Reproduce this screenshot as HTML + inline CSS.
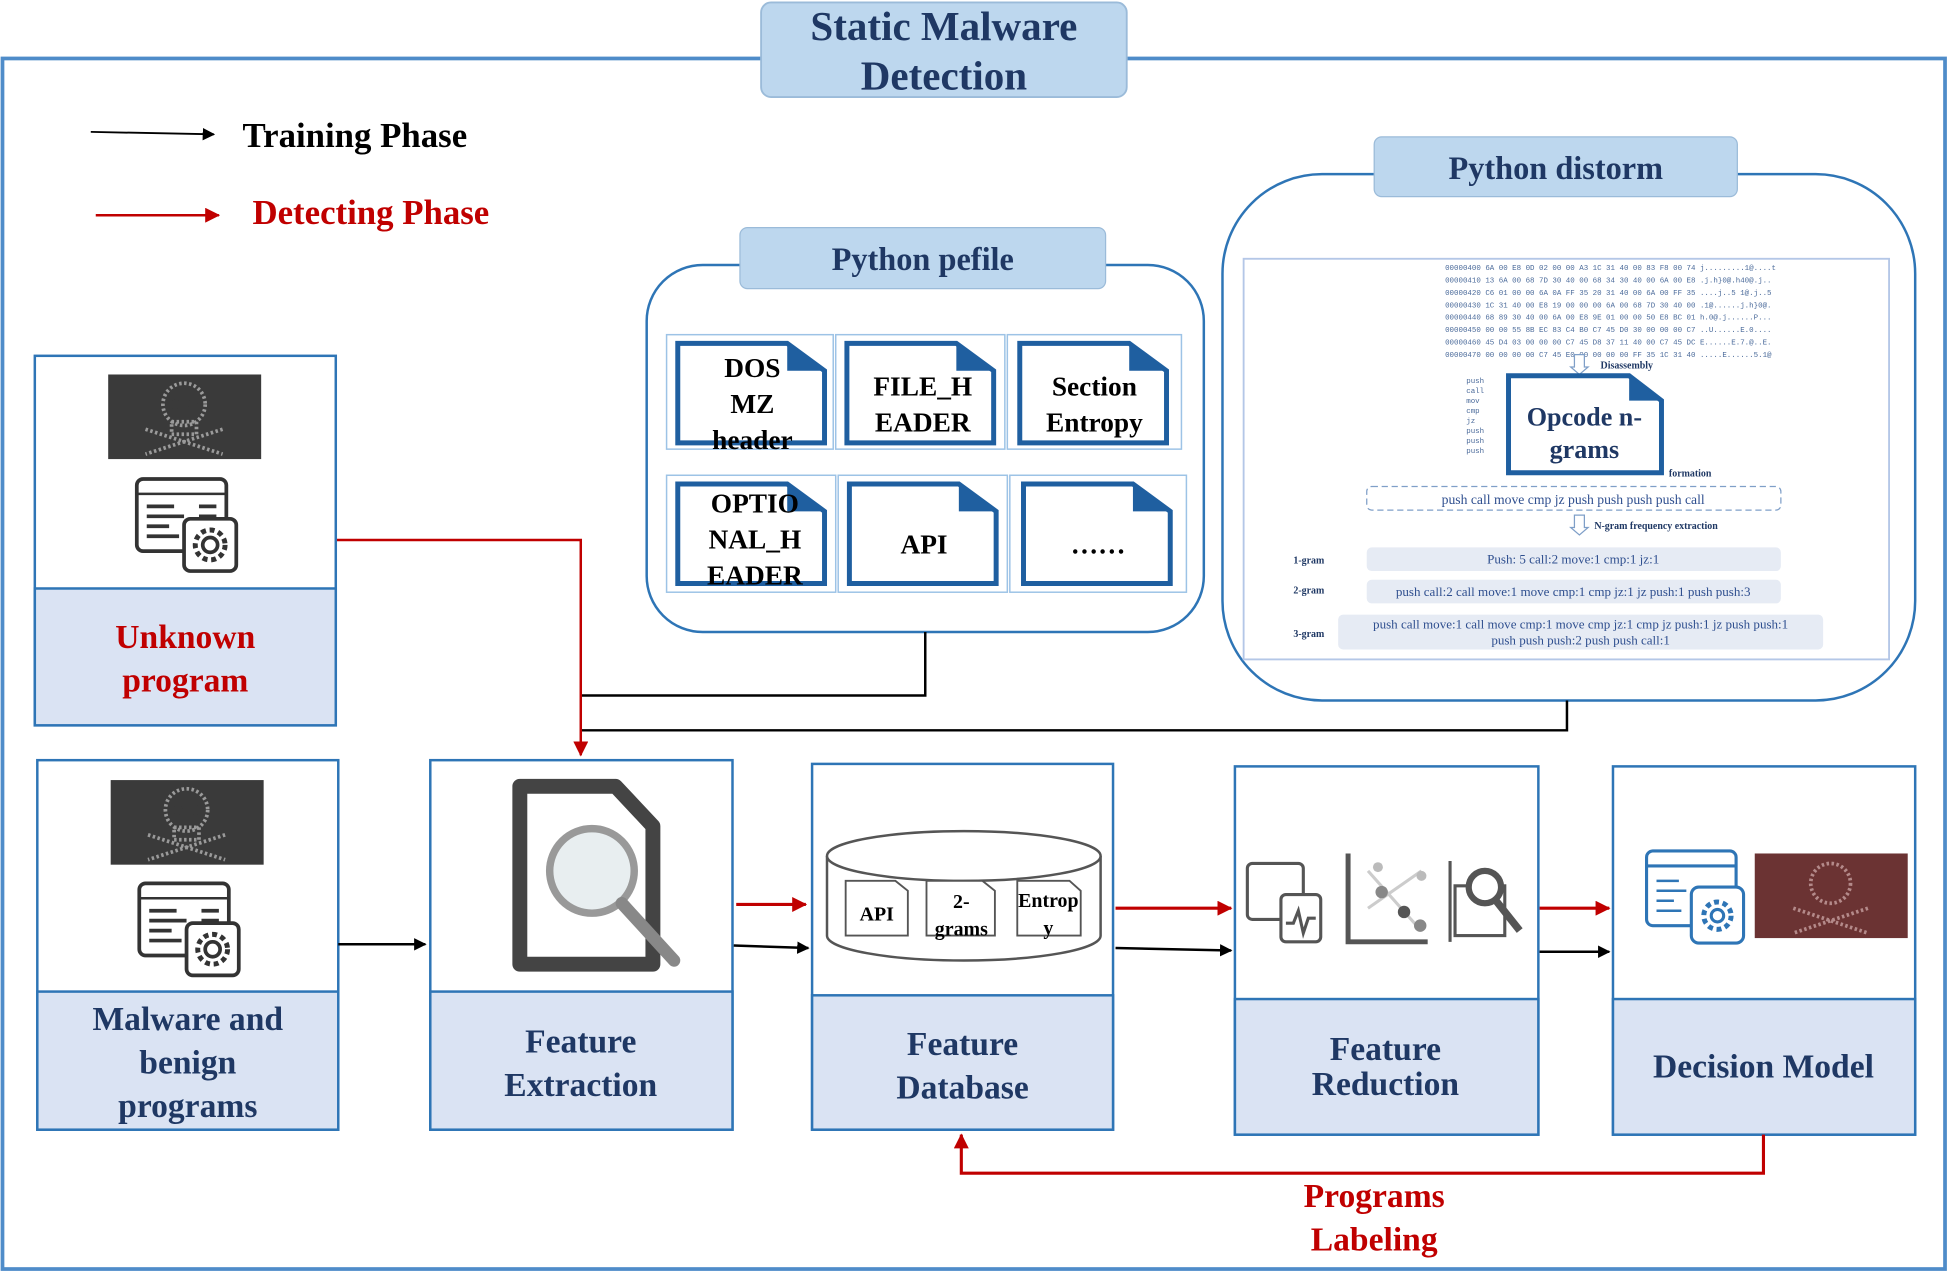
<!DOCTYPE html>
<html><head><meta charset="utf-8"><style>
html,body{margin:0;padding:0;background:#fff;}
svg{display:block;}
text{font-family:"Liberation Serif",serif;font-weight:bold;}
</style></head><body>
<svg width="1950" height="1274" viewBox="0 0 1568 1024" preserveAspectRatio="none" xmlns="http://www.w3.org/2000/svg">
<defs>
<marker id="ab" markerWidth="10" markerHeight="10" refX="9" refY="5" orient="auto" markerUnits="userSpaceOnUse"><path d="M0,0 L10,5 L0,10 z" fill="#000"/></marker>
<marker id="ar" markerWidth="12" markerHeight="12" refX="11" refY="6" orient="auto" markerUnits="userSpaceOnUse"><path d="M0,0 L12,6 L0,12 z" fill="#c00000"/></marker>
<g id="doc"><path d="M0,0 H88 L118,22 V80 H0 Z" fill="#fff" stroke="#1f5fa0" stroke-width="4"/><path d="M88,0 L118,22 H88 Z" fill="#1f5fa0"/></g>
<g id="code">
<rect x="0" y="0" width="72" height="58" rx="5" fill="#fff" stroke="#333" stroke-width="3"/>
<line x1="0" y1="12" x2="72" y2="12" stroke="#333" stroke-width="2"/>
<g stroke="#333" stroke-width="3"><line x1="8" y1="22" x2="30" y2="22"/><line x1="8" y1="30" x2="38" y2="30"/><line x1="8" y1="38" x2="26" y2="38"/><line x1="8" y1="46" x2="34" y2="46"/><line x1="50" y1="22" x2="64" y2="22"/><line x1="50" y1="30" x2="64" y2="30"/></g>
<rect x="38" y="32" width="42" height="42" rx="5" fill="#fff" stroke="#333" stroke-width="3"/>
<circle cx="59" cy="53" r="12" fill="none" stroke="#333" stroke-width="4" stroke-dasharray="4 3"/><circle cx="59" cy="53" r="6" fill="none" stroke="#333" stroke-width="3"/>
</g>
<g id="skull">
<rect x="0" y="0" width="123" height="68" fill="#3a3a3a"/>
<g fill="none" stroke="#9a9a9a" stroke-width="3" stroke-dasharray="2 2">
<ellipse cx="61" cy="24" rx="17" ry="17"/><rect x="51" y="38" width="20" height="10"/>
<line x1="30" y1="44" x2="92" y2="64"/><line x1="92" y1="44" x2="30" y2="64"/></g>
<circle cx="54" cy="24" r="4" fill="#3a3a3a"/><circle cx="68" cy="24" r="4" fill="#3a3a3a"/>
</g>
</defs>

<rect x="2" y="47" width="1562" height="973" fill="none" stroke="#4f8cc9" stroke-width="3"/>

<rect x="612" y="2" width="294" height="76" rx="8" fill="#bdd7ee" stroke="#9bbbd9" stroke-width="1.5"/>
<text x="759" y="32" font-size="33" fill="#1f3864" text-anchor="middle">Static Malware</text>
<text x="759" y="72" font-size="33" fill="#1f3864" text-anchor="middle">Detection</text>

<line x1="73" y1="106" x2="172" y2="108" stroke="#000" stroke-width="1.5" marker-end="url(#ab)"/>
<text x="195" y="118" font-size="28" fill="#000">Training Phase</text>
<line x1="77" y1="173" x2="176" y2="173" stroke="#c00000" stroke-width="2" marker-end="url(#ar)"/>
<text x="203" y="180" font-size="28" fill="#c00000">Detecting Phase</text>

<rect x="520" y="213" width="448" height="295" rx="45" fill="#fff" stroke="#2e75b6" stroke-width="2"/>
<rect x="595" y="183" width="294" height="49" rx="6" fill="#bdd7ee" stroke="#9bbbd9"/>
<text x="742" y="217" font-size="26" fill="#1f3864" text-anchor="middle">Python pefile</text>
<g fill="none" stroke="#9dc3e6" stroke-width="1.2">
<rect x="536" y="269" width="134" height="92"/><rect x="672" y="269" width="136" height="92"/><rect x="810" y="269" width="140" height="92"/>
<rect x="536" y="382" width="136" height="94"/><rect x="674" y="382" width="136" height="94"/><rect x="812" y="382" width="142" height="94"/>
</g>
<use href="#doc" x="545" y="276"/><use href="#doc" x="681" y="276"/><use href="#doc" x="820" y="276"/>
<use href="#doc" x="545" y="389"/><use href="#doc" x="683" y="389"/><use href="#doc" x="823" y="389"/>
<g font-size="22" fill="#000" text-anchor="middle">
<text x="605" y="303">DOS</text><text x="605" y="332">MZ</text><text x="605" y="361">header</text>
<text x="742" y="318">FILE_H</text><text x="742" y="347">EADER</text>
<text x="880" y="318">Section</text><text x="880" y="347">Entropy</text>
<text x="607" y="412">OPTIO</text><text x="607" y="441">NAL_H</text><text x="607" y="470">EADER</text>
<text x="743" y="445">API</text><text x="883" y="445">……</text>
</g>

<rect x="983" y="140" width="557" height="423" rx="80" fill="#fff" stroke="#2e75b6" stroke-width="2"/>
<rect x="1105" y="110" width="292" height="48" rx="6" fill="#bdd7ee" stroke="#9bbbd9"/>
<text x="1251" y="144" font-size="26" fill="#1f3864" text-anchor="middle">Python distorm</text>
<rect x="1000" y="208" width="519" height="322" fill="#fff" stroke="#b4c7e7" stroke-width="1.5"/>
<g font-size="6" fill="#4a6a9a">
<text x="1162" y="217" style="font-family:'Liberation Mono',monospace;font-weight:normal">00000400  6A 00 E8 0D 02 00 00 A3  1C 31 40 00 83 F8 00 74  j.........1@....t</text>
<text x="1162" y="227" style="font-family:'Liberation Mono',monospace;font-weight:normal">00000410  13 6A 00 68 7D 30 40 00  68 34 30 40 00 6A 00 E8  .j.h}0@.h40@.j..</text>
<text x="1162" y="237" style="font-family:'Liberation Mono',monospace;font-weight:normal">00000420  C6 01 00 00 6A 0A FF 35  20 31 40 00 6A 00 FF 35  ....j..5 1@.j..5</text>
<text x="1162" y="247" style="font-family:'Liberation Mono',monospace;font-weight:normal">00000430  1C 31 40 00 E8 19 00 00  00 6A 00 68 7D 30 40 00  .1@......j.h}0@.</text>
<text x="1162" y="257" style="font-family:'Liberation Mono',monospace;font-weight:normal">00000440  68 89 30 40 00 6A 00 E8  9E 01 00 00 50 E8 BC 01  h.0@.j......P...</text>
<text x="1162" y="267" style="font-family:'Liberation Mono',monospace;font-weight:normal">00000450  00 00 55 8B EC 83 C4 B0  C7 45 D0 30 00 00 00 C7  ..U......E.0....</text>
<text x="1162" y="277" style="font-family:'Liberation Mono',monospace;font-weight:normal">00000460  45 D4 03 00 00 00 C7 45  D8 37 11 40 00 C7 45 DC  E......E.7.@..E.</text>
<text x="1162" y="287" style="font-family:'Liberation Mono',monospace;font-weight:normal">00000470  00 00 00 00 C7 45 E0 00  00 00 00 FF 35 1C 31 40  .....E......5.1@</text>
</g>
<text x="1287" y="296" font-size="8" fill="#1f3864">Disassembly</text>
<path d="M1266,285 v10 h-3 l7,6 l7,-6 h-3 v-10 z" fill="#fff" stroke="#7f9fc8"/>
<g font-size="6" fill="#4a6a9a" style="font-family:'Liberation Mono',monospace;font-weight:normal"><text x="1179" y="308" style="font-family:'Liberation Mono',monospace;font-weight:normal">push</text><text x="1179" y="316" style="font-family:'Liberation Mono',monospace;font-weight:normal">call</text><text x="1179" y="324" style="font-family:'Liberation Mono',monospace;font-weight:normal">mov</text><text x="1179" y="332" style="font-family:'Liberation Mono',monospace;font-weight:normal">cmp</text><text x="1179" y="340" style="font-family:'Liberation Mono',monospace;font-weight:normal">jz</text><text x="1179" y="348" style="font-family:'Liberation Mono',monospace;font-weight:normal">push</text><text x="1179" y="356" style="font-family:'Liberation Mono',monospace;font-weight:normal">push</text><text x="1179" y="364" style="font-family:'Liberation Mono',monospace;font-weight:normal">push</text></g>
<path d="M1213,302 H1310 L1336,322 V380 H1213 Z" fill="#fff" stroke="#1f5fa0" stroke-width="4"/>
<path d="M1310,302 L1336,322 H1310 Z" fill="#1f5fa0"/>
<text x="1274" y="342" font-size="21" fill="#1f3864" text-anchor="middle">Opcode n-</text>
<text x="1274" y="368" font-size="21" fill="#1f3864" text-anchor="middle">grams</text>
<text x="1342" y="383" font-size="8" fill="#1f3864">formation</text>
<rect x="1099" y="391" width="333" height="19" rx="4" fill="none" stroke="#7f9fc8" stroke-dasharray="5 3"/>
<text x="1265" y="405" font-size="11" fill="#2f4f8f" text-anchor="middle" style="font-weight:normal">push call move cmp jz push push push push call</text>
<path d="M1266,414 v10 h-3 l7,6 l7,-6 h-3 v-10 z" fill="#fff" stroke="#7f9fc8"/>
<text x="1282" y="425" font-size="8" fill="#1f3864">N-gram frequency extraction</text>
<g font-size="8" fill="#1f3864"><text x="1040" y="453">1-gram</text><text x="1040" y="477">2-gram</text><text x="1040" y="512">3-gram</text></g>
<rect x="1099" y="440" width="333" height="19" rx="4" fill="#e6ebf4"/>
<rect x="1099" y="466" width="333" height="19" rx="4" fill="#e6ebf4"/>
<rect x="1076" y="494" width="390" height="28" rx="4" fill="#e6ebf4"/>
<g font-size="10.5" fill="#2f4f8f" text-anchor="middle">
<text x="1265" y="453" style="font-weight:normal">Push: 5 call:2 move:1 cmp:1 jz:1</text>
<text x="1265" y="479" style="font-weight:normal">push call:2 call move:1 move cmp:1 cmp jz:1 jz push:1 push push:3</text>
<text x="1271" y="505" style="font-weight:normal">push call move:1 call move cmp:1 move cmp jz:1 cmp jz push:1 jz push push:1</text>
<text x="1271" y="518" style="font-weight:normal">push push push:2 push push call:1</text>
</g>

<polyline points="744,508 744,559 467,559" fill="none" stroke="#000" stroke-width="2"/>
<polyline points="1260,563 1260,587 467,587" fill="none" stroke="#000" stroke-width="2"/>
<polyline points="270,434 467,434 467,607" fill="none" stroke="#c00000" stroke-width="2" marker-end="url(#ar)"/>

<rect x="28" y="286" width="242" height="297" fill="#fff" stroke="#2e75b6" stroke-width="2"/>
<rect x="28" y="473" width="242" height="110" fill="#dae3f3" stroke="#2e75b6" stroke-width="2"/>
<use href="#skull" x="87" y="301"/>
<use href="#code" x="110" y="385"/>
<text x="149" y="521" font-size="27" fill="#c00000" text-anchor="middle">Unknown</text>
<text x="149" y="556" font-size="27" fill="#c00000" text-anchor="middle">program</text>

<rect x="30" y="611" width="242" height="297" fill="#fff" stroke="#2e75b6" stroke-width="2"/>
<rect x="30" y="797" width="242" height="111" fill="#dae3f3" stroke="#2e75b6" stroke-width="2"/>
<use href="#skull" x="89" y="627"/>
<use href="#code" x="112" y="710"/>
<text x="151" y="828" font-size="27" fill="#1f3864" text-anchor="middle">Malware and</text>
<text x="151" y="863" font-size="27" fill="#1f3864" text-anchor="middle">benign</text>
<text x="151" y="898" font-size="27" fill="#1f3864" text-anchor="middle">programs</text>

<rect x="346" y="611" width="243" height="297" fill="#fff" stroke="#2e75b6" stroke-width="2"/>
<rect x="346" y="797" width="243" height="111" fill="#dae3f3" stroke="#2e75b6" stroke-width="2"/>
<path d="M418,632 H495 L525,664 V775 H418 Z" fill="#fff" stroke="#444" stroke-width="12" stroke-linejoin="round"/>
<circle cx="476" cy="700" r="34" fill="#e8eef0" stroke="#999" stroke-width="6"/>
<line x1="500" y1="726" x2="542" y2="772" stroke="#888" stroke-width="10" stroke-linecap="round"/>
<text x="467" y="846" font-size="27" fill="#1f3864" text-anchor="middle">Feature</text>
<text x="467" y="881" font-size="27" fill="#1f3864" text-anchor="middle">Extraction</text>

<rect x="653" y="614" width="242" height="294" fill="#fff" stroke="#2e75b6" stroke-width="2"/>
<rect x="653" y="800" width="242" height="108" fill="#dae3f3" stroke="#2e75b6" stroke-width="2"/>
<path d="M665,688 V752 A110,20 0 0 0 885,752 V688" fill="#fff" stroke="#555" stroke-width="2"/>
<ellipse cx="775" cy="688" rx="110" ry="20" fill="#fff" stroke="#555" stroke-width="2"/>
<g fill="#fff" stroke="#555" stroke-width="1.5">
<path d="M680,708 H720 L730,716 V752 H680 Z"/><path d="M745,708 H790 L800,716 V752 H745 Z"/><path d="M818,708 H860 L869,716 V752 H818 Z"/>
</g>
<g font-size="16" fill="#000" text-anchor="middle"><text x="705" y="740">API</text><text x="773" y="730">2-</text><text x="773" y="752">grams</text><text x="843" y="729">Entrop</text><text x="843" y="751">y</text></g>
<text x="774" y="848" font-size="27" fill="#1f3864" text-anchor="middle">Feature</text>
<text x="774" y="883" font-size="27" fill="#1f3864" text-anchor="middle">Database</text>

<rect x="993" y="616" width="244" height="296" fill="#fff" stroke="#2e75b6" stroke-width="2"/>
<rect x="993" y="803" width="244" height="109" fill="#dae3f3" stroke="#2e75b6" stroke-width="2"/>
<g stroke="#555" fill="#fff" stroke-width="2.5">
<rect x="1003" y="694" width="45" height="45" rx="4"/><rect x="1030" y="719" width="32" height="38" rx="4"/>
<polyline points="1034,742 1040,742 1044,732 1048,750 1052,738 1058,738" fill="none"/>
<polyline points="1084,686 1084,757 1148,757" fill="none" stroke-width="4"/>
<line x1="1100" y1="730" x2="1143" y2="700" stroke="#ccc"/><line x1="1100" y1="700" x2="1140" y2="745" stroke="#ccc"/>
<circle cx="1129" cy="733" r="5" stroke="none" fill="#555"/><circle cx="1111" cy="717" r="5" stroke="none" fill="#888"/><circle cx="1142" cy="744" r="5" stroke="none" fill="#888"/><circle cx="1108" cy="697" r="4" stroke="none" fill="#bbb"/><circle cx="1143" cy="704" r="4" stroke="none" fill="#bbb"/>
<rect x="1170" y="712" width="40" height="40"/>
<circle cx="1194" cy="713" r="13" stroke-width="5"/><line x1="1203" y1="724" x2="1222" y2="748" stroke-width="6"/>
<line x1="1166" y1="692" x2="1166" y2="757"/>
</g>
<text x="1114" y="852" font-size="27" fill="#1f3864" text-anchor="middle">Feature</text>
<text x="1114" y="880" font-size="27" fill="#1f3864" text-anchor="middle">Reduction</text>

<rect x="1297" y="616" width="243" height="296" fill="#fff" stroke="#2e75b6" stroke-width="2"/>
<rect x="1297" y="803" width="243" height="109" fill="#dae3f3" stroke="#2e75b6" stroke-width="2"/>
<g stroke="#2e75b6" fill="#fff" stroke-width="2.5">
<rect x="1324" y="684" width="72" height="60" rx="5"/><line x1="1324" y1="696" x2="1396" y2="696"/>
<g stroke-width="2"><line x1="1332" y1="708" x2="1350" y2="708"/><line x1="1332" y1="716" x2="1356" y2="716"/><line x1="1332" y1="724" x2="1346" y2="724"/><line x1="1332" y1="732" x2="1352" y2="732"/></g>
<rect x="1360" y="713" width="42" height="45" rx="6"/>
<circle cx="1381" cy="736" r="11" stroke-dasharray="4 3" stroke-width="4"/><circle cx="1381" cy="736" r="5"/>
</g>
<rect x="1411" y="686" width="123" height="68" fill="#6b3333"/>
<g fill="none" stroke="#b48a8a" stroke-width="3" stroke-dasharray="2 2"><ellipse cx="1472" cy="710" rx="16" ry="16"/><line x1="1442" y1="730" x2="1502" y2="750"/><line x1="1502" y1="730" x2="1442" y2="750"/></g>
<text x="1418" y="866" font-size="27" fill="#1f3864" text-anchor="middle">Decision Model</text>

<line x1="272" y1="759" x2="342" y2="759" stroke="#000" stroke-width="2" marker-end="url(#ab)"/>
<line x1="592" y1="727" x2="648" y2="727" stroke="#c00000" stroke-width="2.5" marker-end="url(#ar)"/>
<line x1="590" y1="760" x2="650" y2="762" stroke="#000" stroke-width="2" marker-end="url(#ab)"/>
<line x1="897" y1="730" x2="990" y2="730" stroke="#c00000" stroke-width="2.5" marker-end="url(#ar)"/>
<line x1="897" y1="762" x2="990" y2="764" stroke="#000" stroke-width="2" marker-end="url(#ab)"/>
<line x1="1238" y1="730" x2="1294" y2="730" stroke="#c00000" stroke-width="2.5" marker-end="url(#ar)"/>
<line x1="1238" y1="765" x2="1294" y2="765" stroke="#000" stroke-width="2" marker-end="url(#ab)"/>

<polyline points="1418,912 1418,943 773,943 773,912" fill="none" stroke="#c00000" stroke-width="2.5" marker-end="url(#ar)"/>
<text x="1105" y="970" font-size="27" fill="#c00000" text-anchor="middle">Programs</text>
<text x="1105" y="1005" font-size="27" fill="#c00000" text-anchor="middle">Labeling</text>
</svg>
</body></html>
